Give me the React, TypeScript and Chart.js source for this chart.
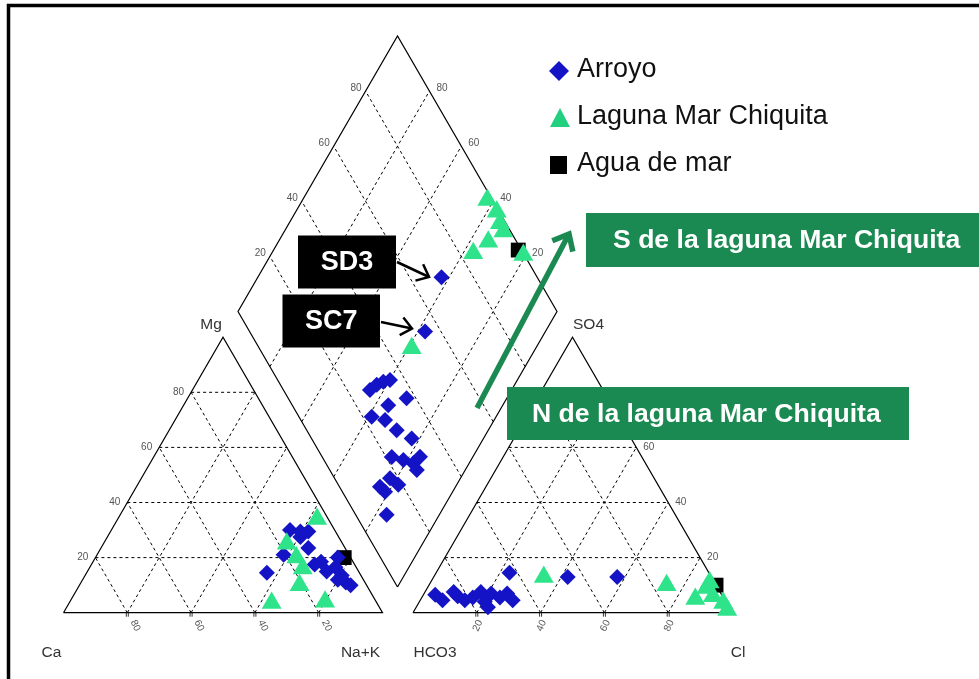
import React, { useEffect, useRef } from "react";
import { Chart, registerables } from "chart.js";

Chart.register(...registerables);

// ---------------- data (percent of meq/L) ----------------
// Cation triangle: Ca and Mg (Na+K = 100 - Ca - Mg)
const arroyoCa = [14, 11, 8.5, 12, 11.5, 20.5, 29, 12.5, 4, 6.5, 10, 6, 6, 5, 8, 10];
const arroyoMg = [30, 29.5, 29.5, 27.5, 23.5, 21, 14.5, 17.5, 20, 16.5, 15, 13.5, 11, 10, 12, 18.5];
const lagunaCa = [3.5, 17.5, 17, 17, 21, 33, 16];
const lagunaMg = [34, 25, 20, 16, 10, 3.5, 4];
const marCa = [2];
const marMg = [20];

// Anion triangle: Cl and SO4 (HCO3 = 100 - Cl - SO4)
const arroyoCl = [3.7, 7, 9, 11, 14, 16, 17.5, 20.5, 22.5, 21, 24.5, 26, 29, 23, 42, 57.5];
const arroyoSO4 = [6.5, 4.5, 7.5, 6, 4.5, 5.5, 7.5, 4, 2, 7, 5.5, 7, 4.5, 14.5, 13, 13];
const lagunaCl = [34.5, 74.5, 86, 87.5, 91, 95.5, 98, 87.5];
const lagunaSO4 = [13, 10, 5, 9, 6, 3.5, 1, 11];
const marCl = [90];
const marSO4 = [10];

// Diamond: Ca+Mg and SO4+Cl
const arroyoCaMg = [44.4, 43.2, 41.7, 39.9, 35.9, 31.4, 39, 34.2, 28.7, 22.5, 25.4, 21.2, 17.5, 16.6, 15.2, 23.7, 22.1, 18.3, 21.2, 16.5, 42.4, 37.7];
const arroyoSO4Cl = [27.1, 30.2, 32.8, 35.2, 30.1, 37.1, 22.8, 26.4, 28.2, 31.4, 21.8, 24.9, 27.4, 30.7, 27.3, 12.7, 17.4, 18.8, 13.4, 9.7, 70, 55];
const lagunaCaMg = [42.1, 37, 33.9, 31.3, 34.2, 36.8, 20.8, 38.9];
const lagunaSO4Cl = [98.4, 99.2, 98.1, 97.7, 91.1, 84.3, 99.7, 47.8];
const marCaMg = [23.3];
const marSO4Cl = [99];

const seriesNames = ["Arroyo", "Laguna Mar Chiquita", "Agua de mar"];
const gridTicks = [20, 40, 60, 80];
const cationNames = ["Ca", "Mg", "Na+K"];
const anionNames = ["HCO3", "SO4", "Cl"];
const sampleTags = ["SD3", "SC7"];
const zoneTags = ["S de la laguna Mar Chiquita", "N de la laguna Mar Chiquita"];

// ---------------- geometry / style ----------------
const SIDE = 319;
const HGT = 275.5;
const CAT0 = { x: 63.5, y: 612.7 };
const AN0 = { x: 413, y: 612.7 };
const DIA0 = { x: 397.5, y: 587 };

const BLUE = "#1414c6";
const GREEN = "#2fe38b";
const DARKGREEN = "#1b8a52";
const FONT = "'Liberation Sans', Arial, sans-serif";

type P = { x: number; y: number };
const cat = (ca: number, mg: number): P => ({ x: CAT0.x + (SIDE * (100 - ca - mg / 2)) / 100, y: CAT0.y - (HGT * mg) / 100 });
const an = (cl: number, so4: number): P => ({ x: AN0.x + (SIDE * (cl + so4 / 2)) / 100, y: AN0.y - (HGT * so4) / 100 });
const dia = (u: number, v: number): P => ({ x: DIA0.x + ((SIDE / 2) * (v - u)) / 100, y: DIA0.y - (HGT * (u + v)) / 100 });

function lineDs(pts: P[], dashed: boolean) {
  return {
    data: pts,
    showLine: true,
    borderColor: "#000",
    borderWidth: dashed ? 1 : 1.2,
    borderDash: dashed ? [3, 3] : [],
    pointRadius: 0,
    pointHoverRadius: 0,
    fill: false,
    tension: 0,
    order: 10,
  };
}

function buildLines() {
  const ds: any[] = [];
  ds.push(lineDs([cat(100, 0), cat(0, 0), cat(0, 100), cat(100, 0)], false));
  ds.push(lineDs([an(0, 0), an(100, 0), an(0, 100), an(0, 0)], false));
  ds.push(lineDs([dia(0, 0), dia(100, 0), dia(100, 100), dia(0, 100), dia(0, 0)], false));
  for (const k of gridTicks) {
    ds.push(lineDs([cat(100 - k, k), cat(0, k)], true));
    ds.push(lineDs([cat(100 - k, 0), cat(0, 100 - k)], true));
    ds.push(lineDs([cat(k, 0), cat(k, 100 - k)], true));
    ds.push(lineDs([an(0, k), an(100 - k, k)], true));
    ds.push(lineDs([an(k, 0), an(k, 100 - k)], true));
    ds.push(lineDs([an(100 - k, 0), an(0, 100 - k)], true));
    ds.push(lineDs([dia(k, 0), dia(k, 100)], true));
    ds.push(lineDs([dia(0, k), dia(100, k)], true));
  }
  return ds;
}

function seriesPoints(caA: number[], mgA: number[], clA: number[], so4A: number[], uA: number[], vA: number[]) {
  return [
    ...caA.map((c, i) => cat(c, mgA[i])),
    ...clA.map((c, i) => an(c, so4A[i])),
    ...uA.map((u, i) => dia(u, vA[i])),
  ];
}

function arrow(ctx: CanvasRenderingContext2D, x1: number, y1: number, x2: number, y2: number, w: number, head: number, color: string) {
  const a = Math.atan2(y2 - y1, x2 - x1);
  ctx.save();
  ctx.strokeStyle = color;
  ctx.lineWidth = w;
  ctx.lineCap = "butt";
  ctx.lineJoin = "miter";
  ctx.beginPath();
  ctx.moveTo(x1, y1);
  ctx.lineTo(x2, y2);
  ctx.stroke();
  ctx.beginPath();
  ctx.moveTo(x2 - head * Math.cos(a - 0.7), y2 - head * Math.sin(a - 0.7));
  ctx.lineTo(x2, y2);
  ctx.lineTo(x2 - head * Math.cos(a + 0.7), y2 - head * Math.sin(a + 0.7));
  ctx.stroke();
  ctx.restore();
}

const decorPlugin = {
  id: "piperDecor",
  afterDraw(chart: any) {
    const ctx: CanvasRenderingContext2D = chart.ctx;
    const sx = chart.scales.x;
    const sy = chart.scales.y;
    const px = (p: P) => ({ x: sx.getPixelForValue(p.x), y: sy.getPixelForValue(p.y) });
    ctx.save();

    // tick labels
    ctx.fillStyle = "#555";
    ctx.font = `10px ${FONT}`;
    ctx.textBaseline = "middle";
    for (const k of gridTicks) {
      let p = px(cat(100 - k, k));
      ctx.textAlign = "right";
      ctx.fillText(String(k), p.x - 7, p.y);
      p = px(an(100 - k, k));
      ctx.textAlign = "left";
      ctx.fillText(String(k), p.x + 7, p.y);
      p = px(dia(100, k));
      ctx.textAlign = "right";
      ctx.fillText(String(k), p.x - 4, p.y - 3);
      p = px(dia(k, 100));
      ctx.textAlign = "left";
      ctx.fillText(String(k), p.x + 7, p.y - 3);
      p = px(cat(k, 0));
      ctx.save();
      ctx.translate(p.x + 8, p.y + 13);
      ctx.rotate((65 * Math.PI) / 180);
      ctx.textAlign = "center";
      ctx.fillText(String(k), 0, 0);
      ctx.restore();
      p = px(an(k, 0));
      ctx.save();
      ctx.translate(p.x + 1, p.y + 13);
      ctx.rotate((-65 * Math.PI) / 180);
      ctx.textAlign = "center";
      ctx.fillText(String(k), 0, 0);
      ctx.restore();
      ctx.strokeStyle = "#000";
      ctx.lineWidth = 0.8;
      for (const q of [px(cat(k, 0)), px(an(k, 0))]) {
        ctx.beginPath();
        ctx.moveTo(q.x - 1, q.y);
        ctx.lineTo(q.x - 1, q.y + 4);
        ctx.moveTo(q.x + 1, q.y);
        ctx.lineTo(q.x + 1, q.y + 4);
        ctx.stroke();
      }
    }

    // axis names
    ctx.fillStyle = "#333";
    ctx.font = `15.5px ${FONT}`;
    ctx.textAlign = "center";
    ctx.textBaseline = "middle";
    let p = px(cat(100, 0));
    ctx.fillText(cationNames[0], p.x - 12, p.y + 40);
    p = px(cat(0, 100));
    ctx.fillText(cationNames[1], p.x - 12, p.y - 12);
    p = px(cat(0, 0));
    ctx.fillText(cationNames[2], p.x - 22, p.y + 40);
    p = px(an(0, 0));
    ctx.fillText(anionNames[0], p.x + 22, p.y + 40);
    p = px(an(0, 100));
    ctx.fillText(anionNames[1], p.x + 16, p.y - 12);
    p = px(an(100, 0));
    ctx.fillText(anionNames[2], p.x + 6, p.y + 40);

    // legend
    const lx = 559;
    const ly = [71, 118, 165];
    ctx.fillStyle = BLUE;
    ctx.beginPath();
    ctx.moveTo(lx, ly[0] - 10);
    ctx.lineTo(lx + 10, ly[0]);
    ctx.lineTo(lx, ly[0] + 10);
    ctx.lineTo(lx - 10, ly[0]);
    ctx.closePath();
    ctx.fill();
    ctx.fillStyle = "#22d07f";
    ctx.beginPath();
    ctx.moveTo(lx + 1, ly[1] - 10);
    ctx.lineTo(lx + 11, ly[1] + 9);
    ctx.lineTo(lx - 9, ly[1] + 9);
    ctx.closePath();
    ctx.fill();
    ctx.fillStyle = "#000";
    ctx.fillRect(lx - 9, ly[2] - 9, 17, 18);
    ctx.fillStyle = "#111";
    ctx.font = `27px ${FONT}`;
    ctx.textAlign = "left";
    for (let i = 0; i < 3; i++) ctx.fillText(seriesNames[i], 577, ly[i] - 1);

    // black sample tags
    const tagBoxes = [
      { x: 298, y: 235.5, w: 98, h: 53 },
      { x: 282.5, y: 294.5, w: 97.5, h: 53 },
    ];
    ctx.font = `bold 27px ${FONT}`;
    ctx.textAlign = "center";
    for (let i = 0; i < 2; i++) {
      const b = tagBoxes[i];
      ctx.fillStyle = "#000";
      ctx.fillRect(b.x, b.y, b.w, b.h);
      ctx.fillStyle = "#fff";
      ctx.fillText(sampleTags[i], b.x + b.w / 2, b.y + b.h / 2 + 1);
    }
    arrow(ctx, 397, 262, 429, 277, 2.5, 14, "#000");
    arrow(ctx, 381, 322, 412, 328.5, 2.5, 14, "#000");

    // green zone boxes
    const zoneBoxes = [
      { x: 586, y: 213, w: 400, h: 54, tx: 613 },
      { x: 507, y: 387, w: 402, h: 53, tx: 532 },
    ];
    ctx.font = `bold 26.6px ${FONT}`;
    ctx.textAlign = "left";
    for (let i = 0; i < 2; i++) {
      const b = zoneBoxes[i];
      ctx.fillStyle = DARKGREEN;
      ctx.fillRect(b.x, b.y, b.w, b.h);
      ctx.fillStyle = "#fff";
      ctx.fillText(zoneTags[i], b.tx, b.y + b.h / 2 + 1);
    }
    arrow(ctx, 477, 408, 569, 234, 5.5, 18, DARKGREEN);

    // frame
    ctx.strokeStyle = "#000";
    ctx.lineWidth = 3.5;
    ctx.beginPath();
    ctx.moveTo(8.5, 680);
    ctx.lineTo(8.5, 5.5);
    ctx.lineTo(985, 5.5);
    ctx.stroke();
    ctx.restore();
  },
};

export default function App() {
  const ref = useRef<HTMLCanvasElement | null>(null);
  useEffect(() => {
    if (!ref.current) return;
    const datasets: any[] = [
      {
        label: seriesNames[2],
        data: seriesPoints(marCa, marMg, marCl, marSO4, marCaMg, marSO4Cl),
        pointStyle: "rect",
        pointRadius: 10.5,
        backgroundColor: "#000",
        borderWidth: 0,
        showLine: false,
        order: 3,
      },
      {
        label: seriesNames[0],
        data: seriesPoints(arroyoCa, arroyoMg, arroyoCl, arroyoSO4, arroyoCaMg, arroyoSO4Cl),
        pointStyle: "rectRot",
        pointRadius: 8,
        backgroundColor: BLUE,
        borderWidth: 0,
        showLine: false,
        order: 2,
      },
      {
        label: seriesNames[1],
        data: seriesPoints(lagunaCa, lagunaMg, lagunaCl, lagunaSO4, lagunaCaMg, lagunaSO4Cl),
        pointStyle: "triangle",
        pointRadius: 11.5,
        backgroundColor: GREEN,
        borderWidth: 0,
        showLine: false,
        order: 1,
      },
      ...buildLines(),
    ];
    const chart = new Chart(ref.current, {
      type: "scatter",
      data: { datasets },
      options: {
        animation: false,
        responsive: false,
        events: [],
        layout: { padding: 0, autoPadding: false },
        plugins: { legend: { display: false }, tooltip: { enabled: false } },
        scales: {
          x: { type: "linear", min: 0, max: 979, display: false },
          y: { type: "linear", min: 0, max: 679, reverse: true, display: false },
        },
      },
      plugins: [decorPlugin],
    } as any);
    return () => chart.destroy();
  }, []);
  return (
    <div style={{ position: "absolute", left: 0, top: 0, width: 979, height: 679, background: "#fff" }}>
      <canvas ref={ref} width={979} height={679} style={{ width: 979, height: 679, display: "block" }} />
    </div>
  );
}
